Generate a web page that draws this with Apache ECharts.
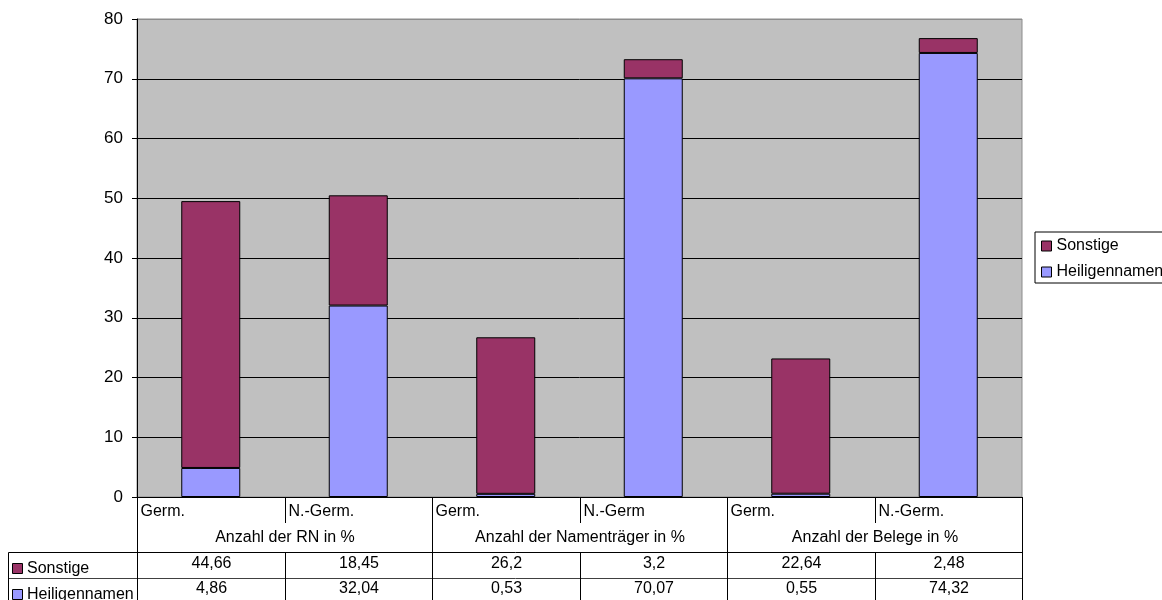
<!DOCTYPE html>
<html>
<head>
<meta charset="utf-8">
<script src="https://cdn.jsdelivr.net/npm/echarts@6/dist/echarts.min.js"></script>
<style>
  html, body { margin: 0; padding: 0; background: #ffffff; }
  #chart { width: 1162px; height: 600px; }
</style>
</head>
<body>
<div id="chart"></div>
<script>
// Categories (bars) and their groups
const categories = ['Germ.', 'N.-Germ.', 'Germ.', 'N.-Germ', 'Germ.', 'N.-Germ.'];
const groups = ['Anzahl der RN in %', 'Anzahl der Namenträger in %', 'Anzahl der Belege in %'];

// Series values (percent)
const sonstige = [44.66, 18.45, 26.2, 3.2, 22.64, 2.48];
const heiligennamen = [4.86, 32.04, 0.53, 70.07, 0.55, 74.32];

const seriesNames = ['Sonstige', 'Heiligennamen'];
const colors = { Sonstige: '#993366', Heiligennamen: '#9999ff' };

// Value axis
const yMin = 0, yMax = 80, yStep = 10;

const FONT = '"Liberation Sans", Arial, sans-serif';
const fmt = v => String(v).replace('.', ',');

const chart = echarts.init(document.getElementById('chart'), null, { renderer: 'canvas' });

const gridLines = [];
for (let v = yMin; v <= yMax; v += yStep) gridLines.push(v === yMax ? '#8c8c8c' : '#000000');

chart.setOption({
  animation: false,
  textStyle: { fontFamily: FONT },
  grid: {
    left: 137, right: 140, top: 19, bottom: 103,
    show: true, backgroundColor: '#c0c0c0', borderColor: '#8c8c8c', borderWidth: 1
  },
  legend: {
    orient: 'vertical',
    left: 1035, top: 232,
    padding: [6, 0, 3, 6],
    itemGap: 10,
    itemWidth: 10, itemHeight: 10,
    icon: 'rect',
    borderColor: '#000000', borderWidth: 1,
    data: seriesNames.map(n => ({ name: n, itemStyle: { color: colors[n], borderColor: '#000', borderWidth: 1 } })),
    textStyle: { fontSize: 16, color: '#000', fontFamily: FONT, padding: [0, 0, 0, 0] }
  },
  xAxis: {
    type: 'category',
    data: categories,
    axisLine: { show: true, lineStyle: { color: '#000', width: 1 } },
    axisTick: { show: false },
    axisLabel: { show: false },
    splitLine: { show: false }
  },
  yAxis: {
    type: 'value',
    min: yMin, max: yMax, interval: yStep,
    axisLine: { show: true, lineStyle: { color: '#000', width: 1 } },
    axisTick: { show: true, length: 5, lineStyle: { color: '#000' } },
    axisLabel: { fontSize: 17, color: '#000', margin: 14, fontFamily: FONT },
    splitLine: { show: true, lineStyle: { color: gridLines, width: 1 } }
  },
  series: [
    {
      name: 'Heiligennamen', type: 'bar', stack: 'total', barWidth: '40%',
      data: heiligennamen,
      itemStyle: { color: colors.Heiligennamen, borderColor: '#000', borderWidth: 1 }
    },
    {
      name: 'Sonstige', type: 'bar', stack: 'total', barWidth: '40%',
      data: sonstige,
      itemStyle: { color: colors.Sonstige, borderColor: '#000', borderWidth: 1 }
    }
  ]
});

// Data table below the plot, positioned from the category axis
const c0 = chart.convertToPixel({ xAxisIndex: 0 }, 0);
const c1 = chart.convertToPixel({ xAxisIndex: 0 }, 1);
const band = c1 - c0;
const edge = i => Math.round(c0 - band / 2 + i * band) + 0.5;
const yBase = Math.round(chart.convertToPixel({ yAxisIndex: 0 }, 0));

const rowA = yBase + 26;   // category labels
const rowB = yBase + 55;   // group labels
const rowC = yBase + 81;   // Sonstige values
const tableLeft = 8.5;
const right = edge(categories.length);

const els = [];
const line = (x1, y1, x2, y2, stroke) => els.push({
  type: 'line', silent: true, z: 10,
  shape: { x1, y1, x2, y2 },
  style: { stroke: stroke || '#000', lineWidth: 1 }
});
const text = (str, x, y, align) => els.push({
  type: 'text', silent: true, z: 11, x, y,
  style: {
    text: str, fill: '#000', font: '16px ' + FONT,
    align: align, verticalAlign: 'middle', textAlign: align, textVerticalAlign: 'middle'
  }
});

// horizontal rules
line(tableLeft, rowB + 0.5, right, rowB + 0.5);
line(tableLeft, rowC + 0.5, right, rowC + 0.5, '#404040');
// left border of the row-header column
line(tableLeft, rowB + 0.5, tableLeft, 600);

// vertical rules
for (let i = 0; i <= categories.length; i++) {
  const x = edge(i);
  if (i % 2 === 0) {
    line(x, yBase, x, 600);
  } else {
    line(x, yBase, x, rowA);
    line(x, rowB + 0.5, x, 600);
  }
}

// category labels
categories.forEach((c, i) => text(c, edge(i) + 3, yBase + 15, 'left'));
// group labels
groups.forEach((g, k) => text(g, (edge(2 * k) + edge(2 * k + 2)) / 2, yBase + 41, 'center'));
// values
sonstige.forEach((v, i) => text(fmt(v), (edge(i) + edge(i + 1)) / 2, rowB + 12, 'center'));
heiligennamen.forEach((v, i) => text(fmt(v), (edge(i) + edge(i + 1)) / 2, rowC + 11, 'center'));

// row headers with keys
[['Sonstige', rowB], ['Heiligennamen', rowC]].forEach(([name, top]) => {
  els.push({
    type: 'rect', silent: true, z: 11,
    shape: { x: 12.5, y: top + 11.5, width: 10, height: 10 },
    style: { fill: colors[name], stroke: '#000', lineWidth: 1 }
  });
  text(name, 27, top + 17, 'left');
});

chart.setOption({ graphic: { elements: els } });
</script>
</body>
</html>
